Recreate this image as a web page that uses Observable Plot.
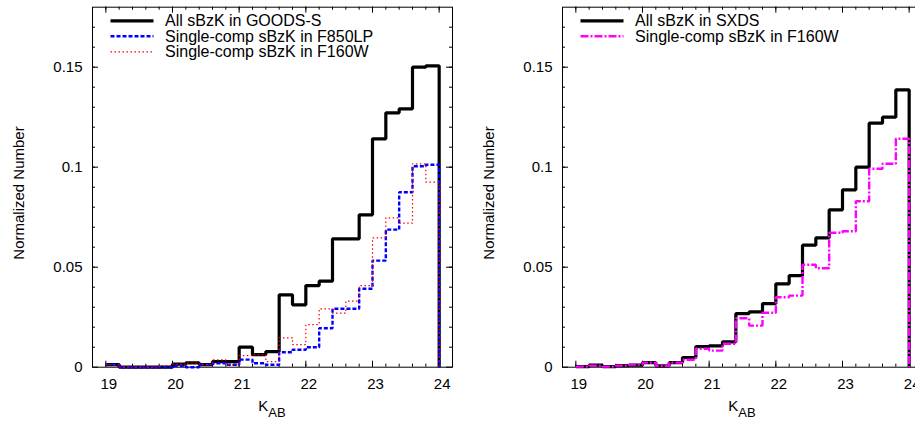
<!DOCTYPE html>
<html>
<head>
<meta charset="utf-8">
<script src="https://cdn.jsdelivr.net/npm/d3@7"></script>
<script src="https://cdn.jsdelivr.net/npm/@observablehq/plot@0.6"></script>
<style>
  html, body { margin: 0; padding: 0; background: #fff; overflow: hidden; }
  #chart { position: relative; width: 915px; height: 422px; overflow: hidden; background: #fff; }
  #chart svg { position: absolute; top: 0; }
</style>
</head>
<body>
<div id="chart"></div>
<script>
// K_AB histogram bins: left edges (width 0.2 mag) and the closing right edge
const binLeft = [19.0, 19.2, 19.4, 19.6, 19.8, 20.0, 20.2, 20.4, 20.6, 20.8,
                 21.0, 21.2, 21.4, 21.6, 21.8, 22.0, 22.2, 22.4, 22.6, 22.8,
                 23.0, 23.2, 23.4, 23.6, 23.8];
const binRight = 24.0;

// GOODS-S: normalized number per bin
const goodsAll  = [0.0013, 0, 0, 0, 0, 0.0015, 0.0022, 0.0013, 0.0028, 0.0028,
                   0.0100, 0.0063, 0.0078, 0.0362, 0.0312, 0.0408, 0.0430, 0.0642, 0.0642, 0.0762,
                   0.1142, 0.1272, 0.1292, 0.1500, 0.1507];
const goodsF850 = [0.0013, 0, 0, 0, 0, 0.0007, 0, 0.0013, 0.0020, 0.0012,
                   0.0038, 0.0020, 0.0012, 0.0075, 0.0087, 0.0100, 0.0195, 0.0292, 0.0292, 0.0392,
                   0.0533, 0.0688, 0.0875, 0.1005, 0.1012];
const goodsF160 = [0.0013, 0, 0, 0, 0.0008, 0.0015, 0.0020, 0.0013, 0.0037, 0.0012,
                   0.0058, 0.0063, 0.0028, 0.0147, 0.0113, 0.0213, 0.0292, 0.0270, 0.0330, 0.0408,
                   0.0647, 0.0747, 0.0720, 0.1017, 0.0925];

// SXDS: normalized number per bin
const sxdsAll  = [0.0003, 0.0010, 0.0003, 0.0008, 0.0010, 0.0023, 0.0007, 0.0023, 0.0048, 0.0103,
                  0.0107, 0.0127, 0.0268, 0.0277, 0.0318, 0.0417, 0.0458, 0.0610, 0.0647, 0.0787,
                  0.0887, 0.1000, 0.1220, 0.1250, 0.1387];
const sxdsF160 = [0.0003, 0.0008, 0.0003, 0.0008, 0.0013, 0.0023, 0.0007, 0.0023, 0.0037, 0.0092,
                  0.0083, 0.0117, 0.0245, 0.0208, 0.0272, 0.0350, 0.0358, 0.0512, 0.0495, 0.0672,
                  0.0680, 0.0830, 0.0992, 0.1017, 0.1142];

// Axis ticks and labels
const xTickLabels = [19, 20, 21, 22, 23, 24];
const yTickLabels = [0, 0.05, 0.1, 0.15];
const xMinorTicks = d3.range(19, 24.0001, 0.2).map(v => +v.toFixed(1));
const yMinorTicks = d3.range(0.01, 0.1701, 0.01).map(v => +v.toFixed(2));

const FONT = '"Liberation Sans", Arial, Helvetica, sans-serif';
const ML = 92, MR = 8, MT = 6.7, PW = 360, PH = 360;
const MB = 422 - MT - PH;

// Outline of a histogram: one point per bin left edge, then close at the right edge
function histOutline(values) {
  const pts = binLeft.map((x, i) => ({x, y: values[i]}));
  pts.push({x: binRight, y: values[values.length - 1]});
  pts.push({x: binRight, y: 0});
  return pts;
}

function panel(series, legendItems) {
  const marks = [
    Plot.frame({stroke: "black", strokeWidth: 1}),
    // inward ticks on all four sides
    Plot.tickX(xMinorTicks, {x: d => d, insetTop: PH - 3, stroke: "black"}),
    Plot.tickX(xMinorTicks, {x: d => d, insetBottom: PH - 3, stroke: "black"}),
    Plot.tickX(xTickLabels, {x: d => d, insetTop: PH - 6, stroke: "black"}),
    Plot.tickX(xTickLabels, {x: d => d, insetBottom: PH - 6, stroke: "black"}),
    Plot.tickY(yMinorTicks, {y: d => d, insetRight: PW - 3, stroke: "black"}),
    Plot.tickY(yMinorTicks, {y: d => d, insetLeft: PW - 3, stroke: "black"}),
    Plot.tickY(yTickLabels, {y: d => d, insetRight: PW - 6, stroke: "black"}),
    Plot.tickY(yTickLabels, {y: d => d, insetLeft: PW - 6, stroke: "black"}),
    Plot.axisX(xTickLabels, {tickSize: 0, tickPadding: 11, dx: 3, fontSize: 15, label: null, tickFormat: d => String(d)}),
    Plot.axisY(yTickLabels, {tickSize: 0, tickPadding: 10, fontSize: 15, label: null, tickFormat: d => String(d)}),
    ...series.map(s => Plot.line(histOutline(s.values), {
      x: "x", y: "y", curve: "step-after",
      stroke: s.color, strokeWidth: s.width, strokeDasharray: s.dash,
      strokeLinejoin: "miter", strokeLinecap: "butt"
    }))
  ];
  const svg = Plot.plot({
    width: ML + PW + MR, height: 422,
    marginLeft: ML, marginRight: MR, marginTop: MT, marginBottom: MB,
    x: {domain: [18.8, 24.2]},
    y: {domain: [0, 0.18]},
    style: {fontFamily: FONT, fontSize: "15px", color: "black", background: "transparent", overflow: "visible"},
    marks
  });

  const g = d3.select(svg);
  // y-axis title
  g.append("text")
    .attr("transform", "translate(18.3,193) rotate(-90)")
    .attr("text-anchor", "middle").attr("dominant-baseline", "central")
    .attr("font-family", FONT).attr("font-size", 15).attr("fill", "black")
    .text("Normalized Number");
  // x-axis title K_AB
  const xt = g.append("text")
    .attr("x", ML + PW / 2).attr("y", 410.5)
    .attr("text-anchor", "middle")
    .attr("font-family", FONT).attr("fill", "black");
  xt.append("tspan").attr("font-size", 15).text("K");
  xt.append("tspan").attr("font-size", 13).attr("dy", 6.5).text("AB");
  // legend
  legendItems.forEach((it, i) => {
    const y = 20.8 + i * 15.5;
    g.append("line")
      .attr("x1", 110.5).attr("x2", 153.5).attr("y1", y).attr("y2", y)
      .attr("stroke", it.color).attr("stroke-width", it.width)
      .attr("stroke-dasharray", it.dash || null);
    g.append("text")
      .attr("x", 165).attr("y", y + 5.6)
      .attr("text-anchor", "start")
      .attr("font-family", FONT).attr("font-size", 16).attr("fill", "black")
      .text(it.label);
  });
  return svg;
}

const sAllGoods = {values: goodsAll,  color: "#000000", width: 3.2, dash: null, label: "All sBzK in GOODS-S"};
const sF850     = {values: goodsF850, color: "#0000ff", width: 2.4, dash: "4,2", label: "Single-comp sBzK in F850LP"};
const sF160     = {values: goodsF160, color: "#ff0000", width: 1.2, dash: "1.5,2.5", label: "Single-comp sBzK in F160W"};
const sAllSxds  = {values: sxdsAll,   color: "#000000", width: 3.2, dash: null, label: "All sBzK in SXDS"};
const sSxdsF160 = {values: sxdsF160,  color: "#ff00ff", width: 2.4, dash: "8,2,2,2", label: "Single-comp sBzK in F160W"};

const left = panel([sAllGoods, sF850, sF160], [sAllGoods, sF850, sF160]);
const right = panel([sAllSxds, sSxdsF160], [sAllSxds, sSxdsF160]);
left.style.left = "0px";
right.style.left = "469.7px";
const chart = document.getElementById("chart");
chart.appendChild(left);
chart.appendChild(right);
</script>
</body>
</html>
